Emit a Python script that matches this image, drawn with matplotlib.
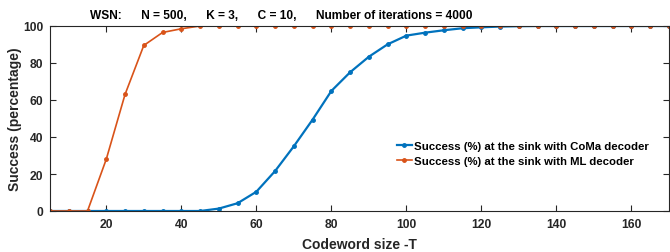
import matplotlib
matplotlib.use("Agg")
import matplotlib.pyplot as plt

plt.rcParams['font.family'] = ['Liberation Sans', 'DejaVu Sans']

T = list(range(5, 171, 5))
coma = [0, 0, 0, 0, 0, 0, 0, 0, 0, 1.3, 4.2, 10.4, 21.6, 35.0, 49.4, 64.9, 75.0, 83.4,
        90.1, 94.8, 96.4, 97.7, 98.8, 99.3, 99.7, 99.9, 100, 100, 100, 100, 100, 100, 100, 100]
ml = [0, 0, 0, 28, 63, 89.5, 96.5, 98.5, 100, 100, 100, 100, 100, 100, 100, 100, 100, 100,
      100, 100, 100, 100, 100, 100, 100, 100, 100, 100, 100, 100, 100, 100, 100, 100]
xticks = [20, 40, 60, 80, 100, 120, 140, 160]
yticks = [0, 20, 40, 60, 80, 100]
title = "WSN:      N = 500,      K = 3,      C = 10,      Number of iterations = 4000"

W, H = 670, 253
L, R, TOP, BOT = 50, 669, 27, 212
fig = plt.figure(figsize=(W/100, H/100), dpi=100)
ax = fig.add_axes([L/W, 1-BOT/H, (R-L)/W, (BOT-TOP)/H])

ax.plot(T, coma, color='#0072BD', marker='o', markersize=2.5, linewidth=1.6,
        label='Success (%) at the sink with CoMa decoder')
ax.plot(T, ml, color='#D95319', marker='o', markersize=2.5, linewidth=1.2,
        label='Success (%) at the sink with ML decoder')

ax.set_xlim(5, 170)
ax.set_ylim(0, 100)
ax.set_xticks(xticks)
ax.set_yticks(yticks)
ax.tick_params(direction='in', top=True, right=True, length=4, width=0.8,
               labelsize=8.7, colors='#262626', pad=5)
for lbl in ax.get_xticklabels() + ax.get_yticklabels():
    lbl.set_fontweight('bold')
for s in ax.spines.values():
    s.set_color('#262626')
    s.set_linewidth(0.8)

aw, ah = R - L, BOT - TOP
ax.set_xlabel('Codeword size -T', fontsize=10, fontweight='bold', color='#262626')
ax.xaxis.label.set_va('center')
ax.xaxis.set_label_coords(0.5, (BOT - 245) / ah)
ax.set_ylabel('Success (percentage)', fontsize=10, fontweight='bold', color='#262626')
ax.yaxis.label.set_va('center')
ax.yaxis.set_label_coords((15 - L) / aw, 0.5)

ax.text((90 - L) / aw, (BOT - 16) / ah, title, transform=ax.transAxes, ha='left', va='center',
        fontsize=8.6, fontweight='bold', color='black')

leg = ax.legend(loc='center left', bbox_to_anchor=((397 - L) / aw, (BOT - 154.5) / ah),
                frameon=False, fontsize=8.2, handlelength=1.3, handletextpad=0.15,
                labelspacing=0.37, borderaxespad=0, borderpad=0)
for t in leg.get_texts():
    t.set_fontweight('bold')

fig.savefig('out.png', dpi=100)
